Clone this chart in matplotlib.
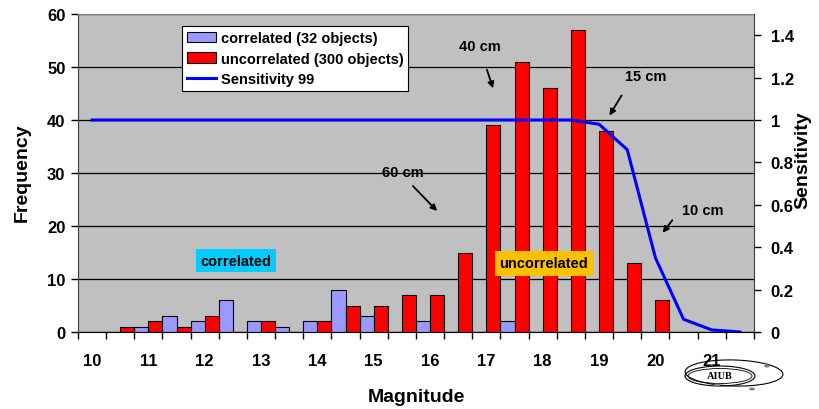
#!/usr/bin/env python3
"""Magnitude histogram of correlated / uncorrelated objects with sensitivity curve."""

import matplotlib

matplotlib.use("Agg")
import matplotlib.pyplot as plt
import numpy as np
from matplotlib.patches import Ellipse, Circle

plt.rcParams["font.family"] = ["Liberation Sans", "DejaVu Sans"]
plt.rcParams["font.weight"] = "bold"

# magnitude bins of 0.5 mag, 10.0 ... 21.5
magnitudes = [10.0, 10.5, 11.0, 11.5, 12.0, 12.5, 13.0, 13.5, 14.0, 14.5, 15.0, 15.5,
              16.0, 16.5, 17.0, 17.5, 18.0, 18.5, 19.0, 19.5, 20.0, 20.5, 21.0, 21.5]
correlated = [0, 0, 1, 3, 2, 6, 2, 1, 2, 8, 3, 0,
              2, 0, 0, 2, 0, 0, 0, 0, 0, 0, 0, 0]
uncorrelated = [0, 1, 2, 1, 3, 0, 2, 0, 2, 5, 5, 7,
                7, 15, 39, 51, 46, 57, 38, 13, 6, 0, 0, 0]
sensitivity = [1, 1, 1, 1, 1, 1, 1, 1, 1, 1, 1, 1,
               1, 1, 1, 1, 1, 1, 0.98, 0.86, 0.35, 0.06, 0.01, 0.0]
tick_labels = ["10", "11", "12", "13", "14", "15", "16", "17", "18", "19", "20", "21"]
freq_ticks = [0, 10, 20, 30, 40, 50, 60]
sens_ticks = [0, 0.2, 0.4, 0.6, 0.8, 1.0, 1.2, 1.4]

W, H = 820, 410
TICK_FS = 12
TITLE_FS = 14
fig = plt.figure(figsize=(W / 100, H / 100), dpi=100)
ax = fig.add_axes([78 / W, 1 - 333 / H, (754 - 78) / W, (333 - 15) / H])
ax.set_facecolor("#C0C0C0")

x = np.arange(len(magnitudes))
ax.bar(x - 0.25, correlated, width=0.5, color="#9999FF", edgecolor="black",
       linewidth=0.8, label="correlated (32 objects)", zorder=2)
ax.bar(x + 0.25, uncorrelated, width=0.5, color="#FF0000", edgecolor="black",
       linewidth=0.8, label="uncorrelated (300 objects)", zorder=2)

ax.set_xlim(-0.5, len(magnitudes) - 0.5)
ax.set_ylim(0, 60)
ax.set_yticks(freq_ticks)
ax.yaxis.grid(True, color="black", linewidth=0.9)
ax.set_axisbelow(True)
ax.set_xticks(x[::2])
ax.set_xticklabels(tick_labels)
ax.set_xticks(np.arange(-0.5, len(magnitudes)), minor=True)
ax.tick_params(axis="x", which="major", length=0, pad=15, labelsize=TICK_FS)
ax.tick_params(axis="x", which="minor", length=5, width=1, direction="out")
ax.tick_params(axis="y", length=5, width=1, pad=4, labelsize=TICK_FS)
for name, spine in ax.spines.items():
    spine.set_color("#808080")
ax.spines["bottom"].set_color("black")
ax.spines["left"].set_color("#404040")

ax2 = ax.twinx()
line, = ax2.plot(x, sensitivity, color="#0000FF", linewidth=2.2, label="Sensitivity 99")
ax2.set_ylim(0, 1.5)
ax2.set_yticks(sens_ticks)
ax2.set_yticklabels([f"{v:g}" for v in sens_ticks])
ax2.tick_params(axis="y", length=5, width=1, pad=7, labelsize=TICK_FS)
ax2.spines["right"].set_color("#404040")
for s in ("top", "left", "bottom"):
    ax2.spines[s].set_visible(False)

handles = ax.get_legend_handles_labels()[0] + [line]
leg = fig.legend(handles, [h.get_label() for h in handles], loc="upper left",
                 bbox_to_anchor=(182 / W, 1 - 27 / H), fancybox=False, framealpha=1,
                 edgecolor="black", fontsize=10.5, handlelength=2.0, handleheight=0.75,
                 handletextpad=0.3, borderpad=0.35, labelspacing=0.45, borderaxespad=0)
leg.get_frame().set_linewidth(0.8)

fig.text(22 / W, 1 - 173 / H, "Frequency", rotation=90, ha="center", va="center",
         fontsize=TITLE_FS, fontweight="bold")
fig.text(803 / W, 1 - 160 / H, "Sensitivity", rotation=90, ha="center", va="center",
         fontsize=TITLE_FS, fontweight="bold")
fig.text(416 / W, 1 - 398 / H, "Magnitude", ha="center", va="center",
         fontsize=TITLE_FS, fontweight="bold")


def px(xp, yp):
    return (xp / W, 1 - yp / H)


# size annotations with arrows
notes = [("60 cm", (403, 173), (411, 185), (439, 214)),
         ("40 cm", (480, 47), (486, 68), (494, 92)),
         ("15 cm", (646, 77), (623, 94), (608, 119)),
         ("10 cm", (703, 211), (674, 219), (661, 236))]
for text, tpos, start, end in notes:
    fig.text(*px(*tpos), text, ha="center", va="center", fontsize=10.5, fontweight="bold")
    fig.add_artist(matplotlib.patches.FancyArrowPatch(
        px(*start), px(*end), transform=fig.transFigure, arrowstyle="-|>",
        mutation_scale=9, color="black", linewidth=1.3))

fig.text(*px(236, 261.5), "correlated", ha="center", va="center", fontsize=10.5,
         fontweight="bold", bbox=dict(boxstyle="square,pad=0.3", facecolor="#00CCFF",
                                      edgecolor="none"))
fig.text(*px(544, 264.5), "uncorrelated", ha="center", va="center", fontsize=10.5,
         fontweight="bold", bbox=dict(boxstyle="square,pad=0.35", facecolor="#FFC000",
                                      edgecolor="none"))

# AIUB logo
fig.add_artist(Ellipse(px(734, 374), 98 / W, 26 / H, angle=-4, transform=fig.transFigure,
                       fill=False, edgecolor="black", linewidth=0.8))
fig.add_artist(Ellipse(px(720, 377), 70 / W, 20 / H, transform=fig.transFigure,
                       fill=False, edgecolor="black", linewidth=0.8))
fig.add_artist(Ellipse(px(720, 377), 64 / W, 15 / H, transform=fig.transFigure,
                       fill=False, edgecolor="black", linewidth=0.6))
for cx, cy in [(767, 367), (752, 390), (717, 386)]:
    fig.add_artist(Circle(px(cx, cy), 3 / W, transform=fig.transFigure,
                          facecolor="#808080", edgecolor="none"))
fig.text(*px(720, 377), "AIUB", ha="center", va="center", fontsize=7.5,
         fontweight="bold", family="Liberation Serif")

fig.savefig("out.png", dpi=100)
